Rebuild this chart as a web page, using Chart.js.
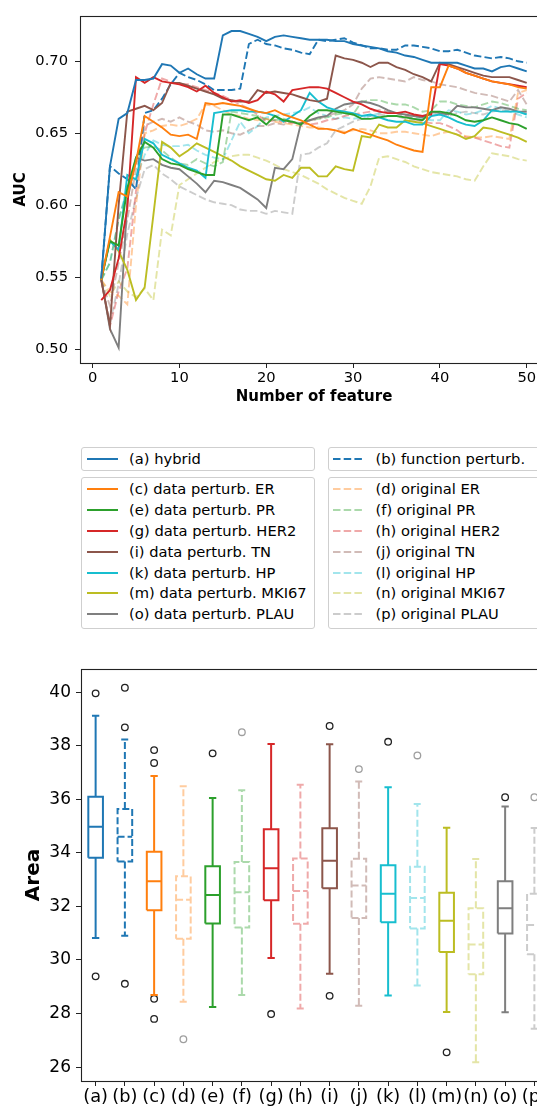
<!DOCTYPE html>
<html>
<head>
<meta charset="utf-8">
<script src="https://cdn.jsdelivr.net/npm/chart.js@4.4.0/dist/chart.umd.min.js"></script>
<style>
  html, body { margin: 0; padding: 0; background: #fff; }
  body { width: 537px; height: 1108px; overflow: hidden; position: relative; font-family: 'DejaVu Sans', sans-serif; }
  #aucChart { position: absolute; left: 0; top: 0; }
  #areaChart { position: absolute; left: 0; top: 640px; }
  .legendBox { position: absolute; border: 1px solid #cfcfcf; border-radius: 3px; background: #fff; box-sizing: border-box; }
  .legendRow { position: absolute; left: 0; right: 0; height: 20px; white-space: nowrap; }
  .legendRow svg { position: absolute; left: 4.5px; top: 8px; }
  .legendRow span { position: absolute; left: 47px; top: 0; font-size: 14.7px; line-height: 20px; color: #000; }
</style>
</head>
<body>
<canvas id="aucChart" width="560" height="420"></canvas>
<canvas id="areaChart" width="560" height="468"></canvas>
<script>
// ---- top chart: AUC vs number of features ----
const featureNum = [1, 2, 3, 4, 5, 6, 7, 8, 9, 10, 11, 12, 13, 14, 15, 16, 17, 18, 19, 20,
  21, 22, 23, 24, 25, 26, 27, 28, 29, 30, 31, 32, 33, 34, 35, 36, 37, 38, 39, 40,
  41, 42, 43, 44, 45, 46, 47, 48, 49, 50];
const featureTicks = [0, 10, 20, 30, 40, 50];
const aucTicks = [0.50, 0.55, 0.60, 0.65, 0.70];

const aucHybrid = [0.549, 0.627, 0.660, 0.664, 0.687, 0.687, 0.688, 0.698, 0.697, 0.692,
  0.695, 0.691, 0.688, 0.688, 0.718, 0.721, 0.721, 0.719, 0.717, 0.714,
  0.717, 0.718, 0.717, 0.716, 0.715, 0.715, 0.715, 0.714, 0.714, 0.712,
  0.711, 0.710, 0.709, 0.707, 0.706, 0.704, 0.703, 0.701, 0.699, 0.699,
  0.699, 0.699, 0.697, 0.695, 0.695, 0.693, 0.696, 0.697, 0.695, 0.693];
const aucFunction = [0.549, 0.627, 0.622, 0.618, 0.611, 0.664, 0.666, 0.674, 0.684, 0.692,
  0.689, 0.687, 0.684, 0.680, 0.680, 0.680, 0.681, 0.712, 0.715, 0.712,
  0.711, 0.709, 0.708, 0.706, 0.705, 0.715, 0.714, 0.715, 0.716, 0.713,
  0.711, 0.709, 0.709, 0.708, 0.708, 0.711, 0.711, 0.710, 0.709, 0.707,
  0.707, 0.708, 0.706, 0.704, 0.703, 0.702, 0.703, 0.702, 0.700, 0.699];
const aucDataER = [0.548, 0.578, 0.609, 0.606, 0.630, 0.662, 0.658, 0.654, 0.649, 0.648,
  0.649, 0.646, 0.671, 0.670, 0.671, 0.670, 0.669, 0.667, 0.665, 0.664,
  0.666, 0.663, 0.661, 0.659, 0.656, 0.653, 0.653, 0.652, 0.650, 0.653,
  0.651, 0.649, 0.647, 0.645, 0.642, 0.640, 0.638, 0.637, 0.682, 0.682,
  0.697, 0.695, 0.692, 0.690, 0.688, 0.686, 0.685, 0.684, 0.682, 0.681];
const aucOrigER = [0.548, 0.540, 0.537, 0.531, 0.600, 0.650, 0.652, 0.655, 0.656, 0.655,
  0.657, 0.660, 0.670, 0.669, 0.666, 0.663, 0.662, 0.660, 0.659, 0.660,
  0.658, 0.657, 0.656, 0.655, 0.654, 0.654, 0.653, 0.652, 0.651, 0.652,
  0.653, 0.652, 0.650, 0.650, 0.651, 0.651, 0.650, 0.649, 0.648, 0.650,
  0.651, 0.649, 0.648, 0.647, 0.647, 0.648, 0.647, 0.646, 0.678, 0.680];
const aucDataPR = [0.548, 0.575, 0.572, 0.612, 0.633, 0.644, 0.640, 0.632, 0.629, 0.628,
  0.625, 0.623, 0.621, 0.621, 0.663, 0.663, 0.661, 0.659, 0.661, 0.656,
  0.662, 0.659, 0.658, 0.656, 0.662, 0.666, 0.666, 0.665, 0.664, 0.663,
  0.660, 0.660, 0.661, 0.662, 0.662, 0.661, 0.660, 0.659, 0.665, 0.665,
  0.664, 0.662, 0.659, 0.658, 0.659, 0.661, 0.659, 0.657, 0.656, 0.653];
const aucOrigPR = [0.548, 0.560, 0.590, 0.610, 0.630, 0.640, 0.641, 0.638, 0.633, 0.629,
  0.628, 0.632, 0.629, 0.627, 0.630, 0.665, 0.664, 0.663, 0.662, 0.660,
  0.659, 0.660, 0.658, 0.657, 0.659, 0.660, 0.661, 0.663, 0.664, 0.663,
  0.672, 0.673, 0.673, 0.671, 0.670, 0.670, 0.668, 0.665, 0.666, 0.672,
  0.672, 0.670, 0.669, 0.668, 0.670, 0.672, 0.671, 0.669, 0.667, 0.666];
const aucDataHER2 = [0.534, 0.541, 0.563, 0.598, 0.689, 0.685, 0.689, 0.686, 0.685, 0.684,
  0.682, 0.679, 0.683, 0.678, 0.675, 0.672, 0.673, 0.671, 0.673, 0.679,
  0.677, 0.672, 0.680, 0.681, 0.682, 0.682, 0.681, 0.678, 0.675, 0.672,
  0.670, 0.667, 0.665, 0.664, 0.664, 0.665, 0.663, 0.662, 0.663, 0.698,
  0.697, 0.695, 0.692, 0.690, 0.688, 0.686, 0.685, 0.684, 0.683, 0.682];
const aucOrigHER2 = [0.548, 0.516, 0.540, 0.556, 0.610, 0.650, 0.670, 0.688, 0.686, 0.684,
  0.684, 0.682, 0.680, 0.678, 0.676, 0.673, 0.670, 0.667, 0.663, 0.658,
  0.659, 0.658, 0.657, 0.657, 0.656, 0.657, 0.659, 0.660, 0.662, 0.663,
  0.664, 0.665, 0.666, 0.665, 0.664, 0.662, 0.660, 0.658, 0.657, 0.657,
  0.655, 0.652, 0.647, 0.647, 0.645, 0.643, 0.641, 0.640, 0.674, 0.678];
const aucDataTN = [0.548, 0.516, 0.600, 0.665, 0.667, 0.669, 0.666, 0.671, 0.685, 0.685,
  0.683, 0.681, 0.679, 0.677, 0.674, 0.673, 0.672, 0.672, 0.680, 0.678,
  0.679, 0.678, 0.677, 0.675, 0.673, 0.672, 0.674, 0.704, 0.702, 0.701,
  0.699, 0.696, 0.699, 0.699, 0.696, 0.694, 0.691, 0.689, 0.686, 0.699,
  0.698, 0.696, 0.694, 0.692, 0.690, 0.689, 0.689, 0.689, 0.687, 0.685];
const aucOrigTN = [0.548, 0.530, 0.560, 0.590, 0.625, 0.655, 0.658, 0.660, 0.658, 0.661,
  0.658, 0.656, 0.652, 0.651, 0.652, 0.650, 0.649, 0.652, 0.655, 0.655,
  0.657, 0.656, 0.658, 0.657, 0.659, 0.660, 0.662, 0.664, 0.666, 0.670,
  0.681, 0.688, 0.689, 0.688, 0.687, 0.686, 0.689, 0.687, 0.686, 0.684,
  0.683, 0.682, 0.680, 0.678, 0.677, 0.676, 0.674, 0.672, 0.680, 0.670];
const aucDataHP = [0.549, 0.575, 0.569, 0.621, 0.618, 0.646, 0.643, 0.635, 0.632, 0.629,
  0.626, 0.624, 0.619, 0.664, 0.665, 0.666, 0.666, 0.665, 0.665, 0.664,
  0.662, 0.658, 0.662, 0.666, 0.678, 0.672, 0.668, 0.666, 0.665, 0.664,
  0.662, 0.663, 0.661, 0.659, 0.658, 0.658, 0.656, 0.656, 0.662, 0.663,
  0.661, 0.658, 0.656, 0.655, 0.659, 0.666, 0.665, 0.665, 0.665, 0.663];
const aucOrigHP = [0.548, 0.560, 0.590, 0.612, 0.618, 0.635, 0.645, 0.642, 0.641, 0.641,
  0.642, 0.638, 0.635, 0.633, 0.632, 0.645, 0.658, 0.650, 0.655, 0.661,
  0.662, 0.663, 0.664, 0.665, 0.668, 0.664, 0.662, 0.660, 0.661, 0.660,
  0.661, 0.662, 0.664, 0.665, 0.664, 0.662, 0.661, 0.660, 0.659, 0.659,
  0.666, 0.665, 0.663, 0.664, 0.666, 0.669, 0.667, 0.665, 0.663, 0.661];
const aucDataMKI67 = [0.549, 0.576, 0.568, 0.555, 0.534, 0.543, 0.593, 0.644, 0.640, 0.634,
  0.638, 0.643, 0.640, 0.637, 0.634, 0.631, 0.627, 0.624, 0.621, 0.618,
  0.617, 0.621, 0.619, 0.626, 0.626, 0.620, 0.620, 0.627, 0.625, 0.624,
  0.648, 0.647, 0.656, 0.654, 0.654, 0.659, 0.658, 0.657, 0.655, 0.653,
  0.651, 0.649, 0.646, 0.648, 0.654, 0.653, 0.651, 0.649, 0.647, 0.644];
const aucOrigMKI67 = [0.548, 0.537, 0.547, 0.540, 0.536, 0.542, 0.534, 0.583, 0.579, 0.614,
  0.618, 0.622, 0.626, 0.630, 0.632, 0.634, 0.635, 0.635, 0.633, 0.631,
  0.628, 0.625, 0.623, 0.621, 0.618, 0.615, 0.611, 0.608, 0.605, 0.603,
  0.601, 0.613, 0.633, 0.634, 0.632, 0.630, 0.627, 0.625, 0.623, 0.622,
  0.621, 0.620, 0.618, 0.617, 0.627, 0.636, 0.635, 0.634, 0.632, 0.631];
const aucDataPLAU = [0.549, 0.514, 0.501, 0.603, 0.633, 0.631, 0.632, 0.628, 0.626, 0.625,
  0.620, 0.615, 0.609, 0.617, 0.616, 0.614, 0.612, 0.608, 0.604, 0.598,
  0.626, 0.625, 0.632, 0.657, 0.659, 0.661, 0.662, 0.667, 0.670, 0.671,
  0.672, 0.671, 0.669, 0.666, 0.664, 0.663, 0.662, 0.661, 0.665, 0.664,
  0.663, 0.669, 0.668, 0.668, 0.667, 0.666, 0.668, 0.667, 0.665, 0.665];
const aucOrigPLAU = [0.548, 0.518, 0.545, 0.580, 0.605, 0.625, 0.628, 0.622, 0.618, 0.613,
  0.610, 0.607, 0.604, 0.602, 0.601, 0.600, 0.597, 0.596, 0.596, 0.594,
  0.596, 0.595, 0.594, 0.635, 0.636, 0.640, 0.643, 0.652, 0.655, 0.658,
  0.660, 0.662, 0.663, 0.662, 0.662, 0.660, 0.659, 0.662, 0.664, 0.663,
  0.662, 0.664, 0.665, 0.664, 0.663, 0.665, 0.666, 0.666, 0.665, 0.664];

const seriesNames = ['(a) hybrid', '(b) function perturb.',
  '(c) data perturb. ER', '(d) original ER',
  '(e) data perturb. PR', '(f) original PR',
  '(g) data perturb. HER2', '(h) original HER2',
  '(i) data perturb. TN', '(j) original TN',
  '(k) data perturb. HP', '(l) original HP',
  '(m) data perturb. MKI67', '(n) original MKI67',
  '(o) data perturb. PLAU', '(p) original PLAU'];
const aucSeries = [aucHybrid, aucFunction, aucDataER, aucOrigER, aucDataPR, aucOrigPR,
  aucDataHER2, aucOrigHER2, aucDataTN, aucOrigTN, aucDataHP, aucOrigHP,
  aucDataMKI67, aucOrigMKI67, aucDataPLAU, aucOrigPLAU];

// ---- bottom chart: area box plots ----
const boxLabels = ['(a)', '(b)', '(c)', '(d)', '(e)', '(f)', '(g)', '(h)',
  '(i)', '(j)', '(k)', '(l)', '(m)', '(n)', '(o)', '(p)'];
const boxPos = [1, 2, 3, 4, 5, 6, 7, 8, 9, 10, 11, 12, 13, 14, 15, 16];
const areaTicks = [26, 28, 30, 32, 34, 36, 38, 40];
const boxLow = [30.82, 30.91, 28.69, 28.44, 28.24, 28.69, 30.07, 28.19,
  29.49, 28.29, 28.67, 29.05, 28.06, 26.18, 28.05, 27.43];
const boxQ1 = [33.82, 33.68, 31.86, 30.79, 31.36, 31.21, 32.23, 31.35,
  32.68, 31.57, 31.41, 31.18, 30.30, 29.47, 30.99, 30.21];
const boxMedian = [34.98, 34.60, 32.94, 32.25, 32.43, 32.53, 33.43, 32.58,
  33.71, 32.78, 32.47, 32.32, 31.47, 30.58, 31.93, 31.31];
const boxQ3 = [36.10, 35.64, 34.04, 33.13, 33.50, 33.66, 34.88, 33.79,
  34.92, 33.78, 33.54, 33.48, 32.51, 31.93, 32.94, 32.47];
const boxHigh = [39.12, 38.24, 36.87, 36.49, 36.05, 36.34, 38.07, 36.55,
  38.06, 36.67, 36.45, 35.83, 34.94, 33.77, 35.73, 34.93];
const boxOutliers = [[39.96, 29.39], [40.17, 38.69, 29.11], [37.84, 37.36, 28.55, 27.80], [27.04],
  [37.72], [38.51], [27.98], [],
  [38.74, 28.66], [37.13], [38.15], [37.64],
  [26.55], [], [36.08], [36.08]];

// colour, dashed, alpha for (a)..(p)
const styles = [
  ['31,119,180', false, 1], ['31,119,180', true, 1],
  ['255,127,14', false, 1], ['255,127,14', true, 0.4],
  ['44,160,44', false, 1], ['44,160,44', true, 0.4],
  ['214,39,40', false, 1], ['214,39,40', true, 0.4],
  ['140,86,75', false, 1], ['140,86,75', true, 0.4],
  ['23,190,207', false, 1], ['23,190,207', true, 0.4],
  ['188,189,34', false, 1], ['188,189,34', true, 0.4],
  ['127,127,127', false, 1], ['127,127,127', true, 0.4]
];
const DASH = [7.5, 3.2];
const rgba = (s) => `rgba(${s[0]},${s[2]})`;

Chart.defaults.font.family = "'DejaVu Sans', sans-serif";
Chart.defaults.color = '#000';

const frame = {
  id: 'frame',
  afterDraw(chart) {
    const { ctx, chartArea: a } = chart;
    ctx.save();
    ctx.strokeStyle = '#222';
    ctx.lineWidth = 1.1;
    ctx.strokeRect(Math.round(a.left) + 0.5, Math.round(a.top) + 0.5,
      Math.round(a.right - a.left), Math.round(a.bottom - a.top));
    ctx.restore();
  }
};

const tickGrid = { display: true, drawOnChartArea: false, drawTicks: true, tickLength: 5, tickColor: '#222', tickWidth: 1 };

// solid lines on top, then the dashed ones
const drawOrder = [0, 2, 4, 6, 8, 10, 12, 14, 1, 3, 5, 7, 9, 11, 13, 15];

new Chart(document.getElementById('aucChart'), {
  type: 'line',
  data: {
    datasets: drawOrder.map((i) => ({
      label: seriesNames[i],
      data: featureNum.map((x, k) => ({ x, y: aucSeries[i][k] })),
      borderColor: rgba(styles[i]),
      borderWidth: 1.9,
      borderDash: styles[i][1] ? DASH : [],
      pointRadius: 0,
      tension: 0,
      fill: false
    }))
  },
  options: {
    responsive: false,
    animation: false,
    layout: { padding: { top: 14, right: 12, left: 0, bottom: 0 } },
    plugins: { legend: { display: false }, tooltip: { enabled: false } },
    scales: {
      x: {
        type: 'linear',
        min: -1.45,
        max: 52.45,
        afterFit: (s) => { s.height = 57; },
        afterBuildTicks: (s) => { s.ticks = featureTicks.map((v) => ({ value: v })); },
        grid: tickGrid,
        border: { display: false },
        ticks: { padding: 1.5, maxRotation: 0, font: { size: 14.7 }, callback: (v) => String(v) },
        title: { display: true, text: 'Number of feature', font: { size: 15, weight: 'bold' }, padding: { top: 0, bottom: 14 } }
      },
      y: {
        type: 'linear',
        min: 0.4903,
        max: 0.7316,
        afterFit: (s) => { s.width = 80; },
        afterBuildTicks: (s) => { s.ticks = aucTicks.map((v) => ({ value: v })); },
        grid: tickGrid,
        border: { display: false },
        ticks: { padding: 7, font: { size: 14.7 }, callback: (v) => v.toFixed(2) },
        title: { display: true, text: 'AUC', font: { size: 15, weight: 'bold' }, padding: { top: 12, bottom: 0 } }
      }
    }
  },
  plugins: [frame]
});

// legend (html)
function addLegendBox(left, top, width, height, idx) {
  const box = document.createElement('div');
  box.className = 'legendBox';
  Object.assign(box.style, { left: left + 'px', top: top + 'px', width: width + 'px', height: height + 'px' });
  idx.forEach((i, r) => {
    const st = styles[i];
    const row = document.createElement('div');
    row.className = 'legendRow';
    row.style.top = (1.8 + 20.8 * r) + 'px';
    row.innerHTML = `<svg width="31" height="4"><line x1="0" y1="2" x2="31" y2="2" stroke="${rgba(st)}" stroke-width="2" ${st[1] ? 'stroke-dasharray="7.5 3.2"' : ''}/></svg>`;
    const txt = document.createElement('span');
    txt.textContent = seriesNames[i];
    row.appendChild(txt);
    box.appendChild(row);
  });
  document.body.appendChild(box);
}
addLegendBox(81, 446.5, 233.5, 24.5, [0]);
addLegendBox(327.5, 446.5, 240, 24.5, [1]);
addLegendBox(81, 476.5, 233.5, 152.5, [2, 4, 6, 8, 10, 12, 14]);
addLegendBox(327.5, 476.5, 240, 152.5, [3, 5, 7, 9, 11, 13, 15]);

// box plot drawn from line segments through the chart scales
function boxShape(i) {
  const p = boxPos[i], hw = 0.25, cw = 0.125;
  const lo = boxLow[i], q1 = boxQ1[i], md = boxMedian[i], q3 = boxQ3[i], hi = boxHigh[i];
  const gap = { x: p, y: null };
  return [
    { x: p - hw, y: q1 }, { x: p + hw, y: q1 }, { x: p + hw, y: q3 }, { x: p - hw, y: q3 }, { x: p - hw, y: q1 }, gap,
    { x: p - hw, y: md }, { x: p + hw, y: md }, gap,
    { x: p, y: q3 }, { x: p, y: hi }, gap,
    { x: p - cw, y: hi }, { x: p + cw, y: hi }, gap,
    { x: p, y: q1 }, { x: p, y: lo }, gap,
    { x: p - cw, y: lo }, { x: p + cw, y: lo }
  ];
}

const boxSets = boxPos.map((p, i) => ({
  data: boxShape(i),
  borderColor: rgba(styles[i]),
  borderWidth: 2,
  borderDash: styles[i][1] ? [7, 3] : [],
  borderCapStyle: 'butt',
  borderJoinStyle: 'miter',
  pointRadius: 0,
  tension: 0,
  spanGaps: false,
  fill: false
}));
const outlierSets = boxPos.map((p, i) => ({
  data: boxOutliers[i].map((v) => ({ x: p, y: v })),
  showLine: false,
  pointRadius: 3.3,
  pointBorderWidth: 1.3,
  pointBackgroundColor: 'rgba(0,0,0,0)',
  pointBorderColor: styles[i][2] < 1 ? 'rgba(0,0,0,0.38)' : '#222'
}));

new Chart(document.getElementById('areaChart'), {
  type: 'line',
  data: { datasets: boxSets.concat(outlierSets) },
  options: {
    responsive: false,
    animation: false,
    layout: { padding: { top: 29, right: 11, left: 0, bottom: 0 } },
    plugins: { legend: { display: false }, tooltip: { enabled: false } },
    scales: {
      x: {
        type: 'linear',
        min: 0.5,
        max: 16.5,
        afterFit: (s) => { s.height = 27; },
        afterBuildTicks: (s) => { s.ticks = boxPos.map((v) => ({ value: v })); },
        grid: tickGrid,
        border: { display: false },
        ticks: { padding: 1, autoSkip: false, maxRotation: 0, minRotation: 0, font: { size: 17.8 }, callback: (v, i) => boxLabels[i] }
      },
      y: {
        type: 'linear',
        min: 25.48,
        max: 40.87,
        afterFit: (s) => { s.width = 81; },
        afterBuildTicks: (s) => { s.ticks = areaTicks.map((v) => ({ value: v })); },
        grid: tickGrid,
        border: { display: false },
        ticks: { padding: 5, font: { size: 17 }, callback: (v) => String(v) },
        title: { display: true, text: 'Area', font: { size: 20, weight: 'bold' }, padding: { top: 22, bottom: 0 } }
      }
    }
  },
  plugins: [frame]
});
</script>
</body>
</html>
